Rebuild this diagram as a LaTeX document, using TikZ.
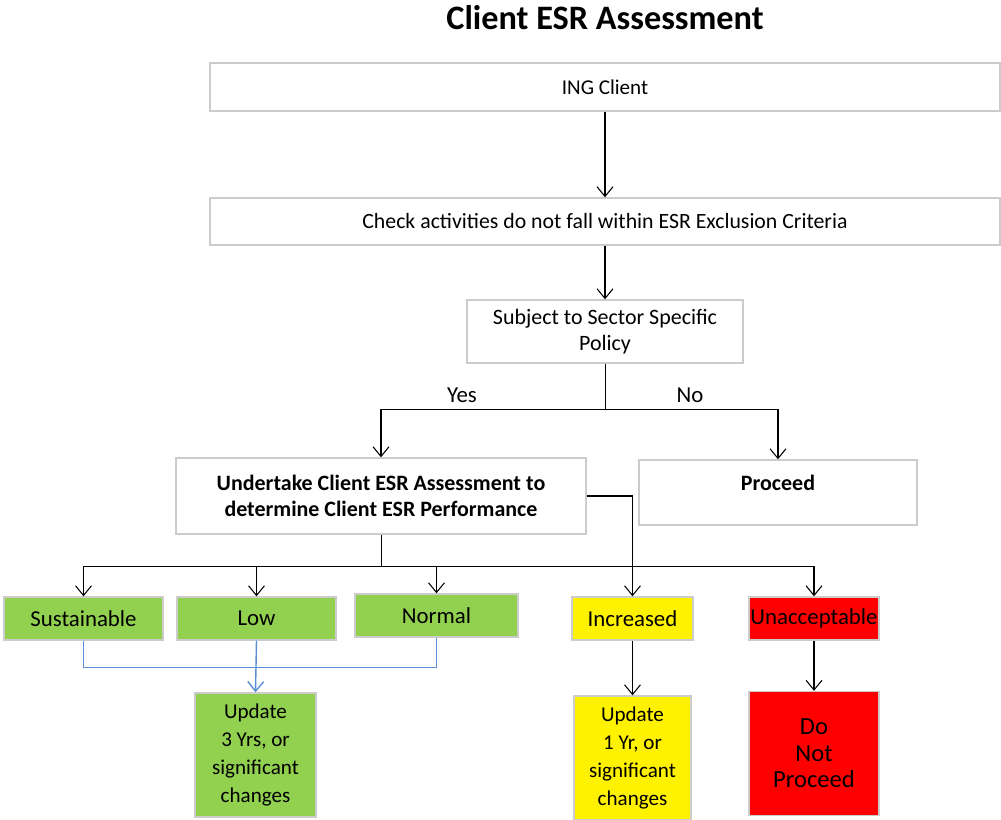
\documentclass[tikz,border=0pt]{standalone}
\usepackage{fontspec}
\setmainfont{Carlito}
\usetikzlibrary{arrows.meta,positioning}
\definecolor{esrgreen}{HTML}{92D050}
\definecolor{esrblue}{HTML}{5B8FD5}

\begin{document}
\begin{tikzpicture}[x=0.02cm,y=-0.02cm,
  box/.style={draw=gray!40,line width=0.8pt,inner sep=0pt,align=center,font=\fontsize{12}{15}\selectfont},
  levelbox/.style={box,font=\fontsize{13}{15}\selectfont},
  updatebox/.style={box,minimum height=2.48cm,font=\fontsize{12}{16}\selectfont},
  arr/.style={-{Straight Barb[length=5.5pt,width=9pt]},line width=0.6pt}]
  \useasboundingbox (0,0) rectangle (1001,819);
  \node[font=\bfseries\fontsize{19.5}{22}\selectfont] (title) at (605,18) {Client ESR Assessment};
  % main column
  \node[box,minimum width=15.8cm,minimum height=0.96cm] (client) at (605,87) {ING Client};
  \node[box,minimum width=15.8cm,minimum height=0.94cm,font=\fontsize{12.4}{15}\selectfont] (check) at (605,221.5) {Check activities do not fall within ESR Exclusion Criteria};
  \node[box,minimum width=5.52cm,minimum height=1.26cm,font=\fontsize{12.5}{15}\selectfont] (subject) at (605,331.5) {Subject to Sector Specific\\Policy};
  \node[box,minimum width=8.2cm,minimum height=1.52cm,font=\bfseries\fontsize{12.5}{15}\selectfont] (undertake) at (381,496) {Undertake Client ESR Assessment to\\determine Client ESR Performance};
  \node[box,minimum width=5.56cm,minimum height=1.3cm,font=\bfseries\fontsize{12.5}{15}\selectfont] (proceed) at (778,492.5) {Proceed\\[-4pt]\mbox{}};
  % performance levels
  \node[levelbox,fill=esrgreen,minimum width=3.18cm,minimum height=0.86cm] (sust) at (83.5,618.5) {Sustainable};
  \node[levelbox,fill=esrgreen,minimum width=3.18cm,minimum height=0.86cm] (low) at (256.5,618.5) {Low};
  \node[levelbox,fill=esrgreen,minimum width=3.26cm,minimum height=0.86cm] (normal) at (436.5,615.5) {Normal};
  \node[levelbox,fill=yellow,minimum width=2.42cm,minimum height=0.86cm] (incr) at (632.5,618.5) {Increased};
  \node[levelbox,fill=red,minimum width=2.6cm,minimum height=0.86cm] (unacc) at (814,618.5) {Unacceptable};
  % outcomes
  \node[updatebox,fill=esrgreen,minimum width=2.42cm] (updgreen) at (255.5,755) {Update\\3 Yrs, or\\significant\\changes};
  \node[updatebox,fill=yellow,minimum width=2.34cm] (updyellow) at (632.5,758) {Update\\1 Yr, or\\significant\\changes};
  \node[updatebox,fill=red,minimum width=2.6cm,font=\fontsize{14}{15}\selectfont] (donot) at (814,753.5) {Do\\Not\\Proceed};

  \draw[arr] (client) -- (check);
  \draw[arr] (check) -- (subject);
  \draw (subject.south) -- ++(0,46) coordinate (split);
  \draw[arr] (split) -| (undertake.north);
  \draw[arr] (split) -| (proceed.north);
  \node[font=\fontsize{13}{15}\selectfont] (yes) at (462,395) {Yes};
  \node[font=\fontsize{13}{15}\selectfont] (no) at (690,395) {No};
  \draw (undertake.south) -- ++(0,32) coordinate (bus);
  \foreach \n in {sust,low,normal,unacc}
    \draw[arr] (bus) -| (\n.north);
  \draw[arr] (undertake.east) -| (incr.north);
  \draw[esrblue,line width=0.8pt] (sust.south) -- ++(0,27) -| (normal.south);
  \draw[arr,esrblue,line width=0.8pt] (low.south) -- (updgreen.north);
  \draw[arr] (incr) -- (updyellow);
  \draw[arr] (unacc) -- (donot);
\end{tikzpicture}
\end{document}
